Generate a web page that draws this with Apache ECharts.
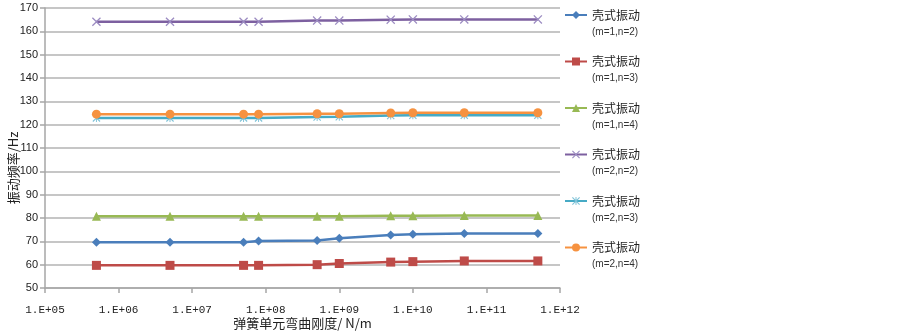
<!DOCTYPE html>
<html>
<head>
<meta charset="utf-8">
<script src="https://cdn.jsdelivr.net/npm/echarts@6/dist/echarts.min.js"></script>
<style>
  html, body { margin: 0; padding: 0; background: #fff; }
  #chart { width: 903px; height: 335px; }
</style>
</head>
<body>
<div id="chart"></div>
<script>
// 弯曲刚度 (N/m)
const stiffness = [5e5, 5e6, 5e7, 8e7, 5e8, 1e9, 5e9, 1e10, 5e10, 5e11];

// 各模态频率 (Hz)
const m1n2 = [69.6, 69.6, 69.6, 70.1, 70.4, 71.3, 72.7, 73.0, 73.4, 73.4];
const m1n3 = [59.7, 59.7, 59.7, 59.7, 60.0, 60.5, 61.1, 61.3, 61.6, 61.6];
const m1n4 = [80.7, 80.7, 80.7, 80.7, 80.7, 80.8, 81.0, 81.0, 81.1, 81.1];
const m2n2 = [164.1, 164.1, 164.1, 164.1, 164.6, 164.6, 165.0, 165.1, 165.1, 165.1];
const m2n3 = [122.9, 122.9, 122.9, 122.9, 123.3, 123.4, 123.9, 124.0, 124.0, 124.0];
const m2n4 = [124.5, 124.5, 124.5, 124.5, 124.7, 124.7, 125.0, 125.1, 125.1, 125.1];

const modeLabels = ["(m=1,n=2)", "(m=1,n=3)", "(m=1,n=4)", "(m=2,n=2)", "(m=2,n=3)", "(m=2,n=4)"];
const seriesTitle = "壳式振动";

const X_PATH = "path://M0,1 L1,0 L5,4 L9,0 L10,1 L6,5 L10,9 L9,10 L5,6 L1,10 L0,9 L4,5 Z";
const STAR_PATH = "path://M0,1 L1,0 L5,4 L9,0 L10,1 L6,5 L10,9 L9,10 L5,6 L1,10 L0,9 L4,5 Z M4.4,0 L5.6,0 L5.6,10 L4.4,10 Z";

function makeSeries(values, idx, color, symbol, size, markColor) {
  return {
    name: seriesTitle + modeLabels[idx],
    type: "line",
    data: stiffness.map((x, i) => [x, values[i]]),
    symbol: symbol,
    symbolSize: size,
    showAllSymbol: true,
    lineStyle: { color: color, width: 2.5 },
    itemStyle: { color: markColor || color },
    emphasis: { disabled: true },
    animation: false
  };
}

const chart = echarts.init(document.getElementById("chart"));
chart.setOption({
  animation: false,
  grid: { left: 45, right: 343, top: 8, bottom: 47, outerBoundsMode: "none", containLabel: false },
  legend: {
    orient: "vertical",
    left: 564,
    top: -7,
    padding: 0,
    itemWidth: 22,
    itemHeight: 10,
    itemGap: 2.5,
    formatter: name => {
      const label = name.slice(seriesTitle.length);
      return "{s| }\n{a|" + seriesTitle + "}\n{b|" + label + "}";
    },
    textStyle: {
      rich: {
        s: { fontSize: 10, lineHeight: 17 },
        a: { fontSize: 12, lineHeight: 17, color: "#222", fontFamily: "Noto Sans CJK SC" },
        b: { fontSize: 10, lineHeight: 17, color: "#333", fontFamily: "Liberation Sans" }
      }
    }
  },
  xAxis: {
    type: "log",
    logBase: 10,
    min: 1e5,
    max: 1e12,
    name: "弹簧单元弯曲刚度/ N/m",
    nameLocation: "middle",
    nameGap: 29,
    nameMoveOverlap: false,
    nameTextStyle: { fontSize: 13, color: "#222", fontFamily: "Noto Sans CJK SC" },
    axisLine: { lineStyle: { color: "#a6a6a6", width: 1.5 } },
    axisTick: { show: true, length: 5, lineStyle: { color: "#a6a6a6", width: 1.5 } },
    minorTick: { show: false },
    splitLine: { show: false },
    axisLabel: {
      margin: 17,
      fontSize: 11,
      color: "#222",
      fontFamily: "Liberation Mono",
      formatter: v => {
        const e = Math.round(Math.log10(v));
        return "1.E+" + (e < 10 ? "0" + e : e);
      }
    }
  },
  yAxis: {
    type: "value",
    min: 50,
    max: 170,
    interval: 10,
    name: "振动频率/Hz",
    nameLocation: "middle",
    nameGap: 25,
    nameMoveOverlap: false,
    nameTextStyle: { fontSize: 13, color: "#222", fontFamily: "Noto Sans CJK SC", padding: [0, 40, 0, 0] },
    axisLine: { show: true, lineStyle: { color: "#a6a6a6", width: 1.5 } },
    axisTick: { show: true, length: 5, lineStyle: { color: "#a6a6a6", width: 1.5 } },
    splitLine: { lineStyle: { color: "#b3b3b3", width: 1.5 } },
    axisLabel: { margin: 7, fontSize: 11, color: "#222", fontFamily: "Liberation Sans" }
  },
  series: [
    makeSeries(m1n2, 0, "#4a7ebb", "diamond", 9),
    makeSeries(m1n3, 1, "#be4b48", "rect", 9),
    makeSeries(m1n4, 2, "#98b954", "triangle", 9),
    makeSeries(m2n2, 3, "#7d60a0", X_PATH, 9, "#9c8cc2"),
    makeSeries(m2n3, 4, "#46aac5", STAR_PATH, 8, "#7fc3d8"),
    makeSeries(m2n4, 5, "#f69240", "circle", 9)
  ]
});
</script>
</body>
</html>
